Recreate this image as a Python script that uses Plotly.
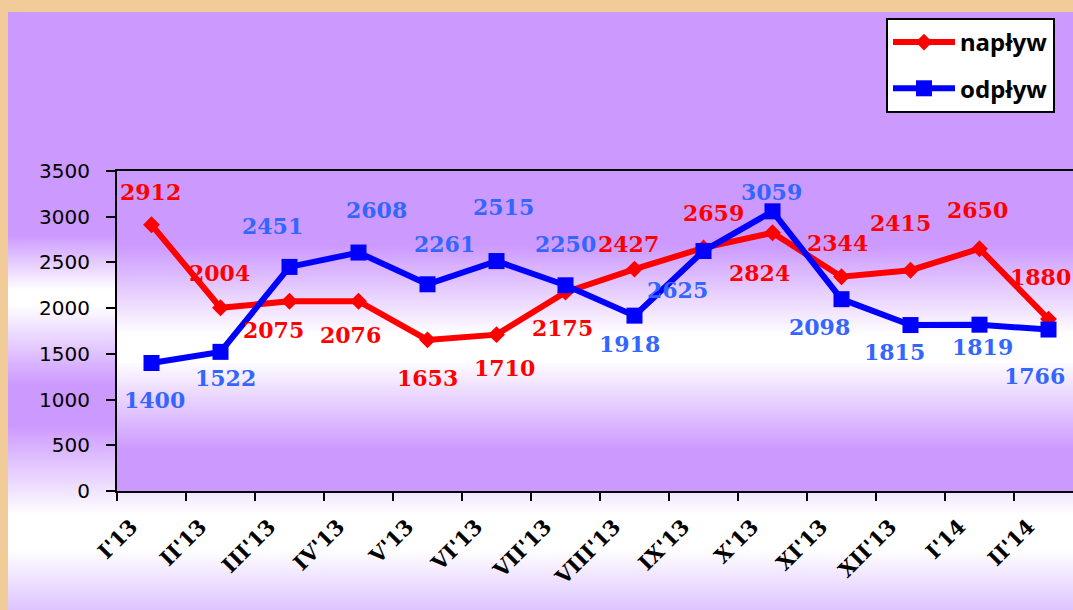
import plotly.graph_objects as go

# ---- data ----
months = ["I'13", "II'13", "III'13", "IV'13", "V'13", "VI'13", "VII'13",
          "VIII'13", "IX'13", "X'13", "XI'13", "XII'13", "I'14", "II'14"]
naplyw = [2912, 2004, 2075, 2076, 1653, 1710, 2175, 2427, 2659, 2824, 2344, 2415, 2650, 1880]
odplyw = [1400, 1522, 2451, 2608, 2261, 2515, 2250, 1918, 2625, 3059, 2098, 1815, 1819, 1766]

# label offsets (pixels, dx right, dy down) relative to each point
naplyw_dx = [-1, -1, -16, -8, 0, 8, -3, -6, 10, -13, -4, -10, -2, -8]
naplyw_dy = [-33, -35, 29, 34, 38, 33, 36, -25, -35, 40, -34, -47, -39, -42]
odplyw_dx = [3, 5, -17, 18, 17, 7, 0, -5, -26, -1, -22, -16, 3, -14]
odplyw_dy = [37, 26, -41, -43, -40, -54, -41, 28, 39, -19, 28, 27, 22, 46]

# ---- geometry (pixels) ----
W, H = 1073, 610
L, R, T, B = 117, 0, 171, 119
PW, PH = W - L - R, H - T - B

PURPLE = (204, 153, 255)
WHITE = (255, 255, 255)
LAV = (222, 196, 255)


def px2paper_x(px):
    return (px - L) / PW


def px2paper_y(py):
    return (H - B - py) / PH


def interp(stops, y):
    for (y0, c0), (y1, c1) in zip(stops, stops[1:]):
        if y0 <= y <= y1:
            t = 0 if y1 == y0 else (y - y0) / (y1 - y0)
            return tuple(round(a + (b - a) * t) for a, b in zip(c0, c1))
    return stops[-1][1]


outer_stops = [(12, PURPLE), (235, PURPLE), (290, WHITE), (305, WHITE), (385, PURPLE),
               (425, PURPLE), (515, WHITE), (550, WHITE), (610, LAV)]
plot_stops = [(171, PURPLE), (245, PURPLE), (335, WHITE), (360, WHITE), (450, PURPLE),
              (491, PURPLE)]

shapes = []
step = 2
y = 12
while y < H:
    c = interp(outer_stops, y + step / 2)
    shapes.append(dict(type="rect", xref="paper", yref="paper", layer="below",
                       x0=px2paper_x(8), x1=px2paper_x(W + 2),
                       y0=px2paper_y(y), y1=px2paper_y(y + step + 0.6),
                       fillcolor="rgb(%d,%d,%d)" % c, line=dict(width=0)))
    y += step
y = T
while y < H - B:
    c = interp(plot_stops, y + step / 2)
    shapes.append(dict(type="rect", xref="paper", yref="paper", layer="below",
                       x0=0, x1=px2paper_x(W + 2),
                       y0=px2paper_y(y), y1=px2paper_y(min(y + step + 0.6, H - B)),
                       fillcolor="rgb(%d,%d,%d)" % c, line=dict(width=0)))
    y += step

fig = go.Figure()
fig.add_trace(go.Scatter(
    x=months, y=naplyw, name="napływ", mode="lines+markers", legendgroup="a",
    line=dict(color="#FF0000", width=6),
    marker=dict(symbol="diamond", size=13, color="#FF0000")))
fig.add_trace(go.Scatter(
    x=months, y=odplyw, name="odpływ", mode="lines+markers", legendgroup="b",
    line=dict(color="#0000FF", width=6),
    marker=dict(symbol="square", size=16, color="#0000FF")))

annotations = []
label_font = "DejaVu Serif"
for m, v, dx, dy in zip(months, naplyw, naplyw_dx, naplyw_dy):
    annotations.append(dict(x=m, y=v, text=str(v), showarrow=False, xshift=dx, yshift=-dy,
                            font=dict(family=label_font, size=22, color="#FF0000", weight="bold")))
for m, v, dx, dy in zip(months, odplyw, odplyw_dx, odplyw_dy):
    annotations.append(dict(x=m, y=v, text=str(v), showarrow=False, xshift=dx, yshift=-dy,
                            font=dict(family=label_font, size=22, color="#3366FF", weight="bold")))

fig.update_layout(
    width=W, height=H,
    margin=dict(l=L, r=R, t=T, b=B, pad=0),
    paper_bgcolor="#F2CC98",
    plot_bgcolor="rgba(0,0,0,0)",
    shapes=shapes,
    annotations=annotations,
    showlegend=True,
    legend=dict(x=px2paper_x(1055), y=px2paper_y(18), xanchor="right", yanchor="top",
                bgcolor="white", bordercolor="black", borderwidth=2,
                font=dict(family="Noto Sans", size=24, color="black", weight="bold"),
                tracegroupgap=12, itemwidth=62),
    xaxis=dict(type="category", range=[-0.5, -0.5 + PW / 69.0],
               tickson="boundaries", ticks="outside", ticklen=8, tickwidth=2, tickcolor="black",
               showline=True, linecolor="black", linewidth=2, mirror=True,
               showgrid=False, zeroline=False, tickangle=-45,
               ticklabelshift=-20, ticklabelstandoff=13,
               tickfont=dict(family="DejaVu Serif", size=21, color="black", weight="bold")),
    yaxis=dict(range=[0, 3500], dtick=500, ticks="outside", ticklen=9, tickwidth=2,
               tickcolor="black", showline=True, linecolor="black", linewidth=2,
               showgrid=False, zeroline=False, ticklabelstandoff=12,
               tickfont=dict(family="DejaVu Sans", size=20, color="black")),
)

fig.write_html("out.html", config={"displayModeBar": False},
               post_script="document.body.style.margin='0';document.body.style.overflow='hidden';")
